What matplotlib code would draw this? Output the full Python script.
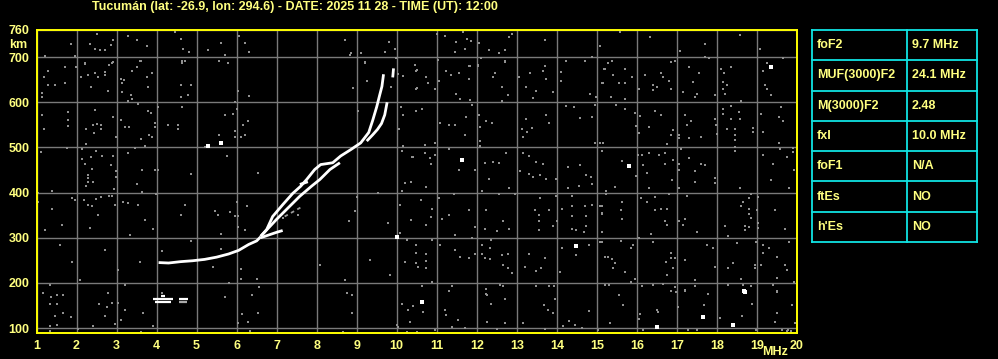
import matplotlib
matplotlib.use("Agg")
import matplotlib.pyplot as plt
import numpy as np

# --- ionogram traces (frequency MHz, virtual height km) ---
f_low = [4.05, 4.3, 4.6, 4.9, 5.2, 5.5, 5.8, 6.05, 6.3, 6.5, 6.6]
h_low = [245, 244, 247, 249, 252, 257, 264, 272, 285, 293, 302]

f_upper = [6.6, 6.75, 6.9, 7.15, 7.4, 7.6, 7.75, 7.95, 8.1, 8.4, 8.6, 8.85,
           9.1, 9.3, 9.4, 9.5, 9.58, 9.63, 9.67]
h_upper = [303, 318, 347, 373, 398, 414, 429, 451, 462, 466, 481, 495,
           510, 533, 560, 590, 618, 635, 662]

f_lower = [6.6, 6.99, 7.33, 7.58, 7.87, 8.08, 8.33, 8.58]
h_lower = [303, 340, 370, 392, 414, 429, 451, 466]

f_xmode = [9.25, 9.4, 9.52, 9.62, 9.7, 9.76]
h_xmode = [514, 528, 540, 553, 572, 600]

f_top = [9.9, 9.92]
h_top = [655, 675]

f_hook = [6.6, 6.8, 7.0, 7.15]
h_hook = [300, 306, 312, 316]

f_bump = [7.58, 7.78]
h_bump = [418, 424]

f_gray_strand = [7.2, 7.4, 7.6]
h_gray_strand = [347, 357, 367]

# low echo near 160 km
es_white = [([3.9, 4.4], [165, 165]), ([3.95, 4.35], [158, 158]),
            ([4.55, 4.78], [165, 165]), ([4.1, 4.2], [170, 170])]
es_gray = [([4.55, 4.75], [158, 158])]

# isolated bright dots
white_pts = [(10.62, 158), (5.28, 504), (5.6, 509), (10.0, 302), (11.64, 473),
             (15.8, 459), (19.34, 679), (18.68, 181), (17.64, 124),
             (18.39, 107), (16.49, 102), (18.7, 180), (14.49, 282)]

# background noise dots
noise = [
    (2.25, 760), (2.5, 751), (1.85, 729), (2.33, 729), (2.45, 718), (2.58, 716),
    (2.7, 716), (2.9, 738), (2.85, 727), (3.28, 747), (3.5, 738), (3.75, 724),
    (4.45, 756), (4.6, 740), (4.65, 718), (4.8, 711), (5.28, 716), (5.6, 731),
    (5.7, 704), (5.85, 760), (6.05, 747), (6.2, 731), (6.3, 711), (8.7, 738),
    (8.85, 709), (9.1, 709), (9.7, 711), (9.8, 733), (9.95, 718), (11.0, 751),
    (11.2, 747), (11.48, 733), (11.65, 756), (11.75, 740), (11.85, 736),
    (11.7, 718), (11.45, 711), (12.05, 731), (12.3, 716), (12.55, 709),
    (12.7, 716), (12.8, 744), (12.88, 751), (1.2, 702), (1.95, 702), (2.2, 687),
    (2.9, 689), (3.58, 691), (4.63, 691), (5.55, 691), (5.78, 687), (9.2, 689),
    (10.45, 682), (11.03, 693), (11.83, 680), (12.03, 682), (12.7, 691),
    (13.7, 738), (15.08, 724), (16.33, 744), (17.7, 729), (18.58, 749),
    (19.08, 718), (15.58, 756), (17.08, 713),
    (1.15, 178), (1.35, 169), (1.5, 173), (1.65, 173), (1.33, 153), (1.5, 153),
    (1.45, 127), (1.65, 133), (1.85, 124), (1.33, 104), (1.5, 107), (1.33, 93),
    (2.03, 98), (2.4, 104), (2.55, 153), (2.75, 147), (2.88, 156), (3.03, 156),
    (2.7, 127), (2.95, 109), (3.2, 140), (3.1, 118), (2.78, 178), (3.65, 133),
    (3.9, 104), (3.6, 91), (5.7, 169), (6.38, 173), (6.13, 131), (6.03, 111),
    (6.28, 113), (6.33, 93), (6.53, 133), (8.75, 178), (8.88, 173), (8.88, 133),
    (8.65, 91), (10.13, 153), (10.28, 140), (10.4, 149), (10.65, 136),
    (10.33, 113), (10.03, 102), (10.25, 91), (10.5, 91), (10.95, 96),
    (11.2, 140), (11.23, 129), (11.53, 118), (11.38, 102), (11.7, 100),
    (12.25, 173), (12.35, 153), (12.25, 113), (12.5, 98), (10.0, 107),
    (12.7, 164), (12.7, 111), (13.15, 111), (13.68, 151), (13.78, 140),
    (13.95, 164), (13.9, 133), (13.7, 98), (14.15, 104), (14.3, 116),
    (14.45, 107), (14.63, 100), (14.8, 138), (15.03, 96), (15.33, 111),
    (15.55, 173), (15.65, 151), (16.08, 131), (16.05, 120), (16.15, 96),
    (16.5, 140), (16.53, 136), (16.98, 180), (17.03, 147), (17.2, 182),
    (17.28, 96), (17.5, 96), (17.68, 151), (17.78, 176), (18.08, 122),
    (18.63, 127), (18.88, 153), (18.98, 96), (19.5, 180), (19.5, 133),
    (19.45, 113), (19.63, 96), (19.78, 96), (19.88, 151), (19.95, 111),
    (19.75, 94), (19.85, 94),
    (4.7, 373), (4.6, 351), (5.45, 360), (5.53, 351), (5.83, 356), (5.95, 347),
    (6.03, 347), (3.9, 320), (5.6, 309), (4.85, 293), (6.03, 324), (6.2, 316),
    (4.13, 271), (5.6, 276), (5.4, 236), (6.1, 231), (6.1, 209), (6.5, 209),
    (5.8, 200), (6.55, 191), (4.13, 178), (6.25, 371), (6.0, 380), (7.15, 344),
    (7.53, 351),
    (6.53, 444), (10.15, 504), (10.13, 491), (10.2, 422), (10.13, 404),
    (9.53, 400), (9.0, 391), (8.95, 360), (8.8, 338), (9.78, 333), (10.08, 373),
    (10.08, 311), (10.25, 296),
    (9.2, 687), (8.9, 631), (9.25, 647), (9.85, 633), (10.03, 662),
    (10.15, 658), (10.5, 671), (10.5, 631), (10.1, 589), (10.15, 571),
    (10.05, 540), (10.4, 478), (9.03, 580), (8.83, 704), (9.98, 698),
    (5.7, 571), (5.55, 527), (5.95, 536), (5.95, 522), (6.1, 522), (6.2, 527),
    (6.15, 549), (6.28, 558), (5.75, 480), (5.95, 600), (6.03, 624), (6.3, 613),
    (5.2, 502), (5.9, 575), (6.0, 585),
    (1.2, 318), (1.58, 284), (1.88, 247), (2.33, 322), (2.7, 273), (3.03, 229),
    (3.33, 307), (3.58, 247), (1.33, 196), (2.08, 207), (2.53, 351), (3.2, 196),
    (3.7, 340), (1.63, 329), (8.08, 240), (8.7, 207), (9.33, 251), (9.83, 218),
    (10.2, 247),
    (10.45, 683), (10.49, 670), (10.49, 630), (10.78, 642), (10.74, 656),
    (10.95, 630), (11.05, 647), (11.24, 670), (11.35, 661), (11.55, 664),
    (11.8, 681), (11.8, 651), (11.49, 619), (11.59, 608), (11.83, 604),
    (12.03, 681), (12.1, 698), (12.41, 656), (12.45, 664), (12.64, 634),
    (12.7, 690), (12.78, 616), (12.64, 603), (13.05, 656), (13.24, 634),
    (13.34, 664), (13.41, 610), (13.49, 625), (13.66, 670), (13.7, 681),
    (13.74, 651), (13.91, 623), (14.1, 668), (14.1, 647), (14.24, 692),
    (14.7, 692), (14.87, 701), (15.14, 642), (15.18, 673), (14.83, 619),
    (14.99, 612), (10.49, 581), (10.64, 584), (11.09, 553), (11.3, 550),
    (11.45, 550), (11.74, 568), (11.7, 527), (11.89, 594), (12.05, 572),
    (12.09, 545), (12.24, 558), (12.39, 555), (12.09, 514), (12.09, 503),
    (13.12, 540), (13.16, 523), (13.26, 535), (13.39, 542), (13.24, 562),
    (13.74, 572), (13.81, 553), (14.24, 592), (14.43, 590), (14.59, 566),
    (14.89, 567), (14.95, 594), (14.95, 509), (15.09, 509), (10.7, 505),
    (10.95, 509), (10.7, 487), (10.39, 478), (10.83, 476), (10.95, 483),
    (10.85, 464), (11.3, 496), (11.55, 451), (11.95, 451), (12.14, 403),
    (12.2, 466), (12.3, 431), (12.41, 468), (12.56, 466), (12.74, 487),
    (12.8, 409), (13.16, 487), (13.3, 481), (13.09, 447), (13.3, 442),
    (13.49, 468), (13.66, 464), (13.59, 438), (13.41, 434), (13.74, 429),
    (13.99, 429), (14.28, 456), (14.59, 461), (14.28, 410), (14.55, 414),
    (14.74, 438), (14.85, 434), (14.89, 418), (15.14, 493), (15.24, 403),
    (10.74, 412), (10.35, 423), (11.43, 396), (10.6, 383), (10.89, 364),
    (11.05, 387), (10.85, 346), (10.74, 329), (10.35, 340), (11.14, 342),
    (11.3, 351), (11.45, 307), (11.8, 361), (11.95, 323), (12.24, 361),
    (12.2, 320), (12.51, 314), (12.66, 336), (12.8, 320), (12.95, 396),
    (12.55, 396), (13.45, 361), (13.55, 351), (13.55, 338), (13.55, 316),
    (13.59, 387), (13.8, 361), (13.91, 325), (14.01, 338), (13.99, 392),
    (14.14, 364), (14.39, 392), (14.39, 370), (14.39, 347), (14.39, 320),
    (14.49, 316), (14.7, 370), (14.74, 347), (14.74, 325), (14.89, 373),
    (14.68, 313), (15.09, 370), (15.14, 353), (15.14, 312), (15.24, 396),
    (10.49, 284), (10.49, 267), (10.74, 264), (10.49, 245), (10.74, 249),
    (10.53, 235), (10.74, 233), (10.89, 296), (11.09, 284), (11.45, 273),
    (11.59, 258), (11.8, 255), (11.95, 264), (11.89, 299), (12.14, 284),
    (12.14, 264), (12.2, 255), (12.34, 277), (12.34, 253), (12.35, 296),
    (12.64, 262), (12.66, 240), (12.78, 233), (12.77, 264), (12.89, 221),
    (13.2, 236), (13.3, 264), (13.49, 227), (13.6, 233), (13.7, 255),
    (14.09, 224), (14.14, 277), (14.49, 262), (14.8, 284), (15.09, 290),
    (15.28, 258), (10.64, 192), (10.89, 201), (11.3, 183), (11.39, 192),
    (12.24, 187), (12.24, 176), (12.59, 196), (12.66, 192), (13.49, 192),
    (13.8, 192), (13.93, 192), (15.3, 196),
    (15.28, 687), (15.39, 692), (15.2, 673), (15.7, 673), (15.41, 660),
    (15.89, 656), (15.16, 642), (15.55, 642), (15.7, 642), (15.35, 612),
    (15.7, 608), (16.05, 630), (16.2, 660), (16.39, 638), (16.39, 627),
    (16.49, 634), (16.6, 664), (16.64, 656), (16.8, 647), (16.85, 690),
    (16.95, 692), (16.85, 630), (17.14, 623), (17.3, 679), (17.39, 645),
    (17.49, 618), (17.45, 612), (17.55, 664), (17.7, 701), (17.8, 698),
    (17.95, 617), (18.1, 673), (18.18, 664), (18.14, 645), (18.24, 638),
    (18.14, 630), (18.2, 619), (18.34, 679), (18.6, 602), (19.16, 670),
    (19.2, 638), (19.24, 629), (19.34, 617), (19.24, 687), (19.64, 698),
    (15.49, 594), (15.7, 586), (15.95, 576), (16.09, 570), (15.99, 547),
    (16.05, 531), (16.31, 545), (16.45, 581), (16.6, 572), (16.89, 538),
    (16.85, 527), (17.05, 527), (16.74, 508), (17.2, 571), (17.34, 558),
    (17.24, 549), (17.3, 521), (17.6, 523), (17.95, 562), (17.98, 550),
    (17.99, 529), (18.14, 584), (18.14, 575), (18.34, 592), (18.34, 562),
    (18.24, 540), (18.45, 540), (18.45, 527), (18.45, 516), (18.56, 578),
    (18.58, 562), (18.89, 544), (18.89, 535), (19.14, 534), (19.1, 575),
    (19.55, 567), (19.64, 558), (19.6, 590), (19.55, 509), (19.89, 499),
    (15.16, 510), (18.45, 500), (18.45, 492), (17.05, 520),
    (15.14, 493), (15.64, 470), (16.02, 483), (16.14, 484), (16.31, 487),
    (16.56, 483), (16.7, 487), (16.16, 460), (16.7, 464), (16.91, 473),
    (17.09, 496), (17.05, 463), (17.05, 451), (17.3, 477), (17.6, 464),
    (17.7, 460), (17.45, 447), (17.45, 423), (16.24, 444), (16.31, 409),
    (15.99, 436), (15.45, 413), (15.24, 403), (16.87, 427), (17.05, 409),
    (17.95, 433), (17.95, 422), (18.58, 409), (19.14, 483), (19.39, 464),
    (19.74, 478), (19.93, 451), (19.8, 409), (19.58, 496), (19.89, 490),
    (19.34, 427),
    (15.14, 370), (15.14, 354), (15.64, 379), (15.6, 361), (15.64, 342),
    (15.14, 312), (16.1, 387), (16.24, 379), (16.45, 390), (16.45, 361),
    (16.6, 364), (16.74, 364), (16.8, 397), (16.7, 338), (16.74, 329),
    (16.35, 309), (17.05, 338), (17.2, 342), (17.14, 329), (17.24, 392),
    (17.49, 312), (18.2, 325), (18.28, 303), (18.59, 370), (18.64, 379),
    (18.7, 327), (18.7, 316), (18.8, 387), (18.84, 396), (18.8, 364),
    (18.8, 353), (18.85, 344), (18.8, 323), (18.99, 361), (19.03, 390),
    (19.03, 322), (19.45, 361), (19.7, 320), (19.02, 333),
    (15.12, 290), (15.6, 293), (15.21, 258), (15.39, 253), (15.45, 245),
    (15.41, 233), (15.7, 223), (15.85, 277), (15.91, 284), (16.06, 299),
    (16.39, 290), (16.85, 267), (16.85, 255), (16.95, 255), (16.72, 246),
    (16.89, 233), (16.74, 218), (17.2, 250), (17.45, 207), (17.74, 284),
    (17.89, 278), (17.95, 236), (18.28, 233), (18.39, 244), (18.49, 288),
    (18.59, 209), (18.95, 240), (18.95, 233), (18.98, 290), (19.1, 240),
    (19.16, 284), (19.14, 266), (19.3, 277), (19.49, 257), (19.7, 240),
    (19.74, 229), (19.8, 290), (19.49, 210), (19.93, 201), (15.21, 196),
    (15.85, 203), (15.95, 209), (16.14, 194), (16.39, 196), (16.64, 198),
    (16.85, 183), (16.95, 190), (17.2, 184), (17.45, 193), (18.27, 196),
    (18.64, 196), (18.85, 192), (19.39, 196), (19.49, 181),
    (2.2, 684), (1.7, 679), (1.99, 679), (1.29, 670), (1.18, 657), (1.14, 620),
    (1.14, 612), (1.29, 638), (1.45, 638), (1.7, 642), (2.1, 657), (2.29, 661),
    (2.45, 664), (2.54, 657), (2.7, 668), (2.7, 661), (2.81, 683), (2.89, 687),
    (2.35, 634), (2.79, 625), (3.1, 651), (3.18, 650), (3.14, 642), (3.14, 622),
    (3.35, 617), (3.39, 607), (3.29, 602), (3.39, 670), (3.5, 679), (3.6, 692),
    (3.75, 657), (3.89, 664), (3.79, 634), (4.6, 638), (4.85, 638), (4.6, 612),
    (4.79, 617), (4.64, 687), (4.7, 692), (4.64, 590), (1.14, 572), (1.18, 540),
    (1.79, 578), (1.79, 560), (1.79, 547), (2.45, 583), (2.24, 540),
    (2.43, 531), (2.5, 551), (2.4, 549), (2.6, 549), (2.6, 540), (2.91, 567),
    (3.1, 560), (3.21, 545), (3.31, 545), (3.54, 596), (3.79, 581), (3.85, 576),
    (3.95, 553), (3.95, 545), (4.04, 590), (4.29, 550), (4.54, 550),
    (4.54, 540), (3.81, 527), (3.89, 523), (3.6, 518), (3.7, 504), (2.98, 524),
    (2.24, 507), (1.77, 499), (1.1, 490), (2.14, 496), (2.49, 492), (2.35, 479),
    (2.64, 481), (2.14, 475), (2.22, 464), (2.39, 453), (2.29, 440),
    (2.29, 433), (2.29, 423), (2.41, 423), (2.24, 414), (2.85, 460),
    (2.91, 482), (2.99, 447), (2.99, 435), (2.93, 408), (3.29, 488), (3.5, 420),
    (3.64, 451), (3.96, 451), (4.04, 451), (3.45, 499), (4.85, 442), (1.04, 399),
    (1.39, 404), (1.04, 378), (1.89, 387), (1.96, 383), (2.18, 383),
    (2.29, 373), (2.39, 370), (2.49, 386), (2.6, 390), (2.81, 392), (2.89, 392),
    (2.95, 372), (3.16, 378), (3.29, 376), (3.53, 373), (3.99, 396),
    (4.71, 373), (1.39, 364), (3.64, 401),
]
noise_mhz = [p[0] for p in noise]
noise_km = [p[1] for p in noise]

freq_ticks = list(range(1, 21))
km_ticks = [100, 200, 300, 400, 500, 600, 700, 760]

title = "Tucumán (lat: -26.9, lon: 294.6) - DATE: 2025 11 28 - TIME (UT): 12:00"
param_names = ["foF2", "MUF(3000)F2", "M(3000)F2", "fxI", "foF1", "ftEs", "h'Es"]
param_values = ["9.7 MHz", "24.1 MHz", "2.48", "10.0 MHz", "N/A", "NO", "NO"]

YEL = "#ffff80"
CYAN = "#10e4e4"
GRID = "#7a7a7a"
FONT = "Liberation Sans"

W, H = 998, 359
fig = plt.figure(figsize=(W / 100, H / 100), dpi=100, facecolor="black")
ax = fig.add_axes([36.5 / W, (H - 333) / H, 760.5 / W, 303 / H], facecolor="black")

ax.scatter(noise_mhz, noise_km, marker="s", s=4.2, color="#909090", linewidths=0, zorder=2)

for fs, hs in [(f_low, h_low), (f_upper, h_upper), (f_lower, h_lower),
               (f_xmode, h_xmode), (f_top, h_top), (f_hook, h_hook), (f_bump, h_bump)]:
    ax.plot(fs, hs, color="white", lw=2.0, solid_capstyle="butt", zorder=4)
ax.plot(f_gray_strand, h_gray_strand, color="#9a9a9a", lw=1.3, ls=(0, (2, 2)), zorder=3)
for fs, hs in es_white:
    ax.plot(fs, hs, color="white", lw=1.6, solid_capstyle="butt", zorder=4)
for fs, hs in es_gray:
    ax.plot(fs, hs, color="#aaaaaa", lw=1.6, solid_capstyle="butt", zorder=3)
ax.scatter([p[0] for p in white_pts], [p[1] for p in white_pts], marker="s",
           s=5, color="white", linewidths=0, zorder=4)

ax.set_xlim(1, 20)
ax.set_ylim(89, 760)
ax.set_xticks(freq_ticks)
ax.set_yticks(km_ticks)
ax.set_xticklabels([str(v) for v in freq_ticks])
ax.set_yticklabels([str(v) for v in km_ticks])
ax.tick_params(length=0, colors=YEL, pad=5, labelsize=9)
for lab in ax.get_xticklabels() + ax.get_yticklabels():
    lab.set_fontfamily(FONT)
    lab.set_fontweight("bold")
ax.grid(True, color=GRID, lw=1)
ax.set_axisbelow(True)
for sp in ax.spines.values():
    sp.set_color("#ffff00")
    sp.set_linewidth(1.4)

fig.text(295 / W, 1 - 7 / H, title, color=YEL, fontsize=9, fontweight="bold",
         family=FONT, ha="center", va="center")
fig.text(18 / W, 1 - 45 / H, "km", color=YEL, fontsize=9, fontweight="bold",
         family=FONT, ha="center", va="center")
fig.text(788 / W, 1 - 352 / H, "MHz", color=YEL, fontsize=9, fontweight="bold",
         family=FONT, ha="right", va="center")

# parameter table
tab = fig.add_axes([812 / W, (H - 242) / H, 165 / W, 212 / H])
tab.set_xlim(0, 165)
tab.set_ylim(212, 0)
tab.axis("off")
row_h = 212 / len(param_names)
for i in range(len(param_names) + 1):
    tab.plot([0, 165], [i * row_h, i * row_h], color=CYAN, lw=1.3, clip_on=False)
for xv in [0, 95, 165]:
    tab.plot([xv, xv], [0, 212], color=CYAN, lw=1.3, clip_on=False)
for i, (name, val) in enumerate(zip(param_names, param_values)):
    yc = (i + 0.5) * row_h
    tab.text(5, yc, name, color=YEL, fontsize=9, fontweight="bold", family=FONT,
             va="center", ha="left")
    tab.text(100, yc, val, color=YEL, fontsize=9, fontweight="bold", family=FONT,
             va="center", ha="left")

fig.savefig("out.png", dpi=100, facecolor="black")
